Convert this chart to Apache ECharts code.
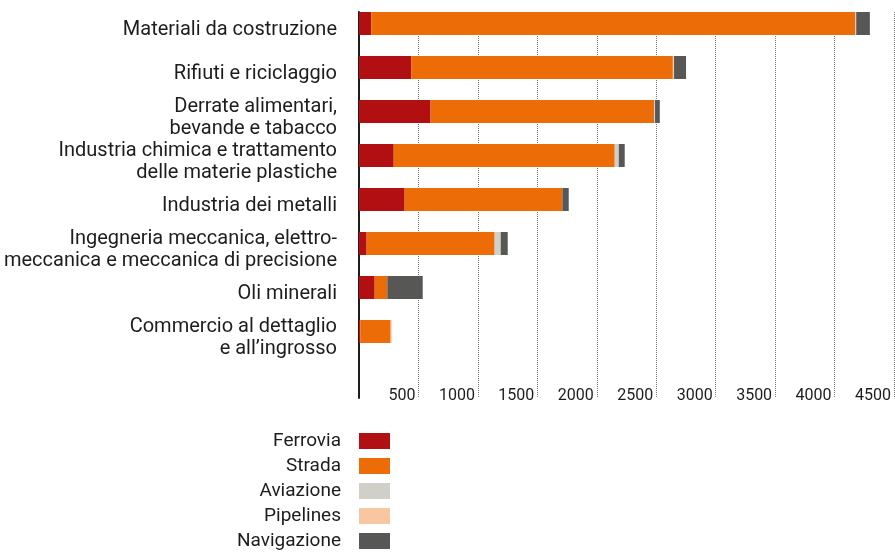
<!DOCTYPE html>
<html>
<head>
<meta charset="utf-8">
<script src="https://cdn.jsdelivr.net/npm/echarts@6/dist/echarts.min.js"></script>
<style>
  html, body { margin: 0; padding: 0; background: #ffffff; }
  #chart { width: 895px; height: 553px; }
</style>
</head>
<body>
<div id="chart"></div>
<script>
// Settori economici (dall'alto in basso)
const categories = [
  'Materiali da costruzione',
  'Rifiuti e riciclaggio',
  'Derrate alimentari,\nbevande e tabacco',
  'Industria chimica e trattamento\ndelle materie plastiche',
  'Industria dei metalli',
  'Ingegneria meccanica, elettro-\nmeccanica e meccanica di precisione',
  'Oli minerali',
  'Commercio al dettaglio\ne all\u2019ingrosso'
];

// Valori per modo di trasporto
const ferrovia    = [104, 441, 602, 292, 384, 64, 132, 11];
const strada      = [4068, 2199, 1880, 1859, 1327, 1077, 106, 255];
const aviazione   = [0, 0, 8, 34, 0, 51, 0, 0];
const pipelines   = [10, 10, 0, 0, 0, 0, 0, 9];
const navigazione = [115, 101, 40, 50, 53, 59, 298, 0];

// Tacche dell'asse orizzontale
const tickMin = 0;
const tickMax = 4500;
const tickStep = 500;

const seriesNames = ['Ferrovia', 'Strada', 'Aviazione', 'Pipelines', 'Navigazione'];
const seriesColors = ['#b20f12', '#ec6c07', '#d1d0c8', '#f8c7a2', '#575756'];
const seriesData = [ferrovia, strada, aviazione, pipelines, navigazione];

const textColor = '#1d1d1b';
const fontFamily = 'Roboto, "Noto Sans", sans-serif';

const chart = echarts.init(document.getElementById('chart'), null, { renderer: 'canvas' });

chart.setOption({
  animation: false,
  backgroundColor: '#ffffff',
  grid: [
    // barre
    { left: 359, right: 1, top: 1.5, height: 352, containLabel: false },
    // assi, griglia ed etichette numeriche
    { left: 359, right: 1, top: 12, height: 386, containLabel: false },
    // etichette dei settori (leggermente abbassate rispetto alle barre)
    { left: 359, right: 1, top: 7.5, height: 352, containLabel: false }
  ],
  xAxis: [
    { gridIndex: 0, type: 'value', min: tickMin, max: tickMax, show: false },
    {
      gridIndex: 1, type: 'value', min: tickMin, max: tickMax, interval: tickStep,
      axisLine: { show: false },
      axisTick: { show: false },
      splitLine: { show: true, lineStyle: { color: '#777777', width: 1, type: 'dotted' } },
      axisLabel: {
        inside: true,
        margin: 2,
        align: 'right',
        verticalAlign: 'middle',
        padding: [0, 3, 0, 0],
        color: textColor,
        fontFamily: fontFamily,
        fontSize: 16,
        formatter: function (v) { return v === 0 ? '' : String(v); }
      }
    },
    { gridIndex: 2, type: 'value', min: tickMin, max: tickMax, show: false }
  ],
  yAxis: [
    {
      gridIndex: 0, type: 'category', inverse: true, data: categories,
      show: false
    },
    {
      gridIndex: 1, type: 'value', min: 0, max: 1,
      axisLine: { show: true, lineStyle: { color: textColor, width: 2 } },
      axisTick: { show: false },
      axisLabel: { show: false },
      splitLine: { show: false }
    },
    {
      gridIndex: 2, type: 'category', inverse: true, data: categories,
      axisLine: { show: false },
      axisTick: { show: false },
      splitLine: { show: false },
      axisLabel: {
        margin: 22,
        color: textColor,
        fontFamily: fontFamily,
        fontSize: 20,
        lineHeight: 22,
        align: 'right'
      }
    }
  ],
  legend: {
    orient: 'vertical',
    right: 505,
    top: 431.5,
    padding: 0,
    align: 'right',
    itemWidth: 31,
    itemHeight: 16,
    itemGap: 6,
    icon: 'rect',
    data: seriesNames,
    textStyle: {
      color: textColor,
      fontFamily: fontFamily,
      fontSize: 19,
      padding: [0, 13, 0, 0]
    }
  },
  series: seriesNames.map(function (name, i) {
    return {
      name: name,
      type: 'bar',
      stack: 'totale',
      xAxisIndex: 0,
      yAxisIndex: 0,
      barWidth: 23,
      z: 3,
      itemStyle: { color: seriesColors[i] },
      emphasis: { disabled: true },
      data: seriesData[i]
    };
  })
});
</script>
</body>
</html>
